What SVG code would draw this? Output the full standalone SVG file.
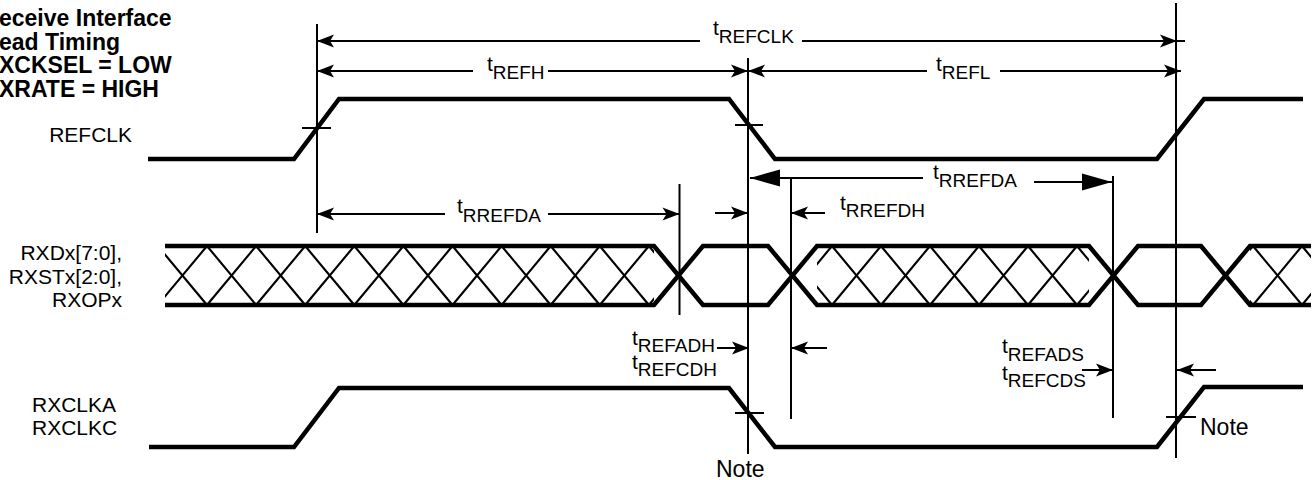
<svg xmlns="http://www.w3.org/2000/svg" width="1313" height="480" viewBox="0 0 1313 480">
<style>
text{font-family:"Liberation Sans",Arial,sans-serif;fill:#000}
.title{font-size:23px;font-weight:bold}
.lbl{font-size:21px}
.note{font-size:23px}
.t{font-size:21px}
.sub{font-size:19px}
.wave{fill:none;stroke:#000;stroke-width:4.5;stroke-linejoin:miter}
.hatch{fill:none;stroke:#000;stroke-width:2.1}
.vl{stroke:#000;stroke-width:2;fill:none}
.ar{stroke:#000;stroke-width:2;fill:none}
.as{marker-start:url(#ah)}
.ae{marker-end:url(#ah)}
.bs{marker-start:url(#bh)}
.be{marker-end:url(#bh)}
</style>
<defs>
<marker id="ah" markerUnits="userSpaceOnUse" orient="auto-start-reverse" overflow="visible" refX="0" refY="0" markerWidth="1" markerHeight="1">
<path d="M0,0 L-17,-6.5 L-13,0 L-17,6.5 Z" fill="#000"/>
</marker>
<marker id="bh" markerUnits="userSpaceOnUse" orient="auto-start-reverse" overflow="visible" refX="0" refY="0" markerWidth="1" markerHeight="1">
<path d="M0,0 L-30,-8.5 L-30,8.5 Z" fill="#000"/>
</marker>
<clipPath id="c1"><rect x="165" y="230" width="489" height="90"/></clipPath>
<clipPath id="c2"><rect x="817" y="230" width="272" height="90"/></clipPath>
<clipPath id="c3"><rect x="1250" y="230" width="61" height="90"/></clipPath>
</defs>
<rect width="1313" height="480" fill="#fff"/>

<g id="title">
<text class="title" x="-1" y="26">eceive Interface</text>
<text class="title" x="-1" y="49.5">ead Timing</text>
<text class="title" x="-1" y="73">XCKSEL = LOW</text>
<text class="title" x="-1" y="96.5">XRATE = HIGH</text>
</g>

<g id="refclk">
<text class="lbl" x="132" y="142" text-anchor="end">REFCLK</text>
<path class="wave" d="M148,159 H294 L339,99 H729 L775,159 H1157 L1204,99 H1303"/>
<path class="vl" d="M302,128 H331 M735,125 H763"/>
</g>

<g id="rxd">
<text class="lbl" x="122" y="260" text-anchor="end">RXDx[7:0],</text>
<text class="lbl" x="122" y="283.5" text-anchor="end">RXSTx[2:0],</text>
<text class="lbl" x="122" y="307" text-anchor="end">RXOPx</text>
<g clip-path="url(#c1)">
<polyline class="hatch" points="157.9,305 207,246 256.1,305 305.2,246 354.3,305 403.4,246 452.5,305 501.6,246 550.7,305 599.8,246 648.9,305 698,246"/>
<polyline class="hatch" points="157.9,246 207,305 256.1,246 305.2,305 354.3,246 403.4,305 452.5,246 501.6,305 550.7,246 599.8,305 648.9,246 698,305"/>
</g>
<g clip-path="url(#c2)">
<polyline class="hatch" points="783,305 832,246 881,305 930,246 979,305 1028,246 1077,305 1126,246"/>
<polyline class="hatch" points="783,246 832,305 881,246 930,305 979,246 1028,305 1077,246 1126,305"/>
</g>
<g clip-path="url(#c3)">
<polyline class="hatch" points="1204,305 1253,246 1302,305 1351,246"/>
<polyline class="hatch" points="1204,246 1253,305 1302,246 1351,305"/>
</g>
<path class="wave" d="M165,246 H654 L703,305 H768 L817,246 H1089 L1138,305 H1201 L1250,246 H1311"/>
<path class="wave" d="M165,305 H654 L703,246 H768 L817,305 H1089 L1138,246 H1201 L1250,305 H1311"/>
</g>

<g id="rxclk">
<text class="lbl" x="32" y="412">RXCLKA</text>
<text class="lbl" x="32" y="435">RXCLKC</text>
<path class="wave" d="M149,447 H294 L339,388 H729 L775,447 H1157 L1204,387 H1303"/>
<path class="vl" d="M735,413 H764 M1166,417 H1196"/>
<text class="note" x="716" y="477">Note</text>
<text class="note" x="1200" y="435">Note</text>
</g>

<g id="connectors">
<path class="vl" d="M317,24 V233 M748,58 V454 M1176,3 V458 M679.5,184 V315 M791,178 V419 M1113,176 V418"/>
<path class="ar as" d="M317,41 H700"/>
<path class="ar ae" d="M802,41 H1177"/>
<path class="ar" d="M1177,41 H1185"/>
<path class="ar as" d="M317,71 H473"/>
<path class="ar ae" d="M548,71 H748"/>
<path class="ar as" d="M748,71 H927"/>
<path class="ar ae" d="M1000,71 H1181"/>
<path class="ar as" d="M317,214 H445"/>
<path class="ar ae" d="M548,214 H679.5"/>
<path class="ar ae" d="M715,213 H748"/>
<path class="ar ae" d="M825,213 H791"/>
<path class="ar bs" d="M750,178 H923"/>
<path class="ar be" d="M1034,182 H1112"/>
<path class="ar ae" d="M717,348 H749"/>
<path class="ar ae" d="M827,348 H791"/>
<path class="ar ae" d="M1082,370 H1113"/>
<path class="ar ae" d="M1216,370 H1177"/>
</g>

<g id="timing-labels">
<text class="t" x="713" y="35">t<tspan class="sub" dy="8">REFCLK</tspan></text>
<text class="t" x="487" y="71">t<tspan class="sub" dy="8">REFH</tspan></text>
<text class="t" x="936" y="71">t<tspan class="sub" dy="8">REFL</tspan></text>
<text class="t" x="457" y="213">t<tspan class="sub" dy="9">RREFDA</tspan></text>
<text class="t" x="933" y="179">t<tspan class="sub" dy="8">RREFDA</tspan></text>
<text class="t" x="840" y="210">t<tspan class="sub" dy="7">RREFDH</tspan></text>
<text class="t" x="632" y="345">t<tspan class="sub" dy="7">REFADH</tspan></text>
<text class="t" x="632" y="369">t<tspan class="sub" dy="7">REFCDH</tspan></text>
<text class="t" x="1002" y="353">t<tspan class="sub" dy="8">REFADS</tspan></text>
<text class="t" x="1002" y="380">t<tspan class="sub" dy="7">REFCDS</tspan></text>
</g>
</svg>
